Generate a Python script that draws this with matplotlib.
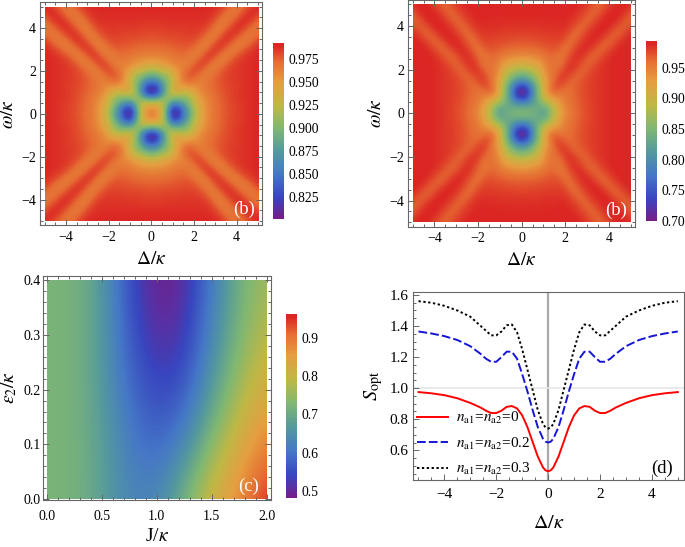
import numpy as np
import matplotlib as mpl
mpl.use('Agg')
import matplotlib.pyplot as plt
from matplotlib.colors import LinearSegmentedColormap
from matplotlib.patches import Rectangle
from matplotlib.ticker import MultipleLocator

plt.rcParams['font.family'] = ['Liberation Serif', 'DejaVu Serif']
plt.rcParams['mathtext.fontset'] = 'stix'

# panels (a) and (b): quadrant delta >= 0, omega >= 0, step .25, rows are omega
a_vals = [
    [.965, .958, .925, .865, .806, .815, .855, .885, .915, .940, .955, .963, .970, .974, .978, .981, .984, .986, .988, .989, .990],
    [.958, .950, .925, .875, .825, .830, .860, .890, .920, .940, .955, .964, .970, .975, .979, .982, .984, .986, .988, .989, .990],
    [.925, .925, .925, .895, .865, .870, .885, .905, .930, .945, .957, .965, .971, .975, .979, .982, .984, .986, .988, .989, .990],
    [.865, .875, .895, .915, .910, .905, .905, .915, .930, .952, .960, .967, .972, .976, .980, .983, .985, .987, .988, .989, .990],
    [.806, .825, .865, .910, .930, .935, .930, .935, .945, .958, .964, .969, .974, .977, .980, .983, .985, .987, .988, .989, .990],
    [.815, .830, .870, .905, .935, .950, .950, .955, .955, .962, .967, .971, .975, .978, .981, .983, .985, .987, .988, .989, .990],
    [.855, .860, .885, .905, .930, .950, .965, .970, .967, .963, .966, .972, .976, .979, .982, .984, .985, .987, .988, .989, .990],
    [.885, .890, .905, .915, .935, .955, .970, .978, .975, .968, .964, .968, .974, .979, .982, .984, .986, .987, .988, .989, .990],
    [.915, .920, .930, .930, .945, .955, .967, .975, .981, .977, .968, .964, .970, .976, .981, .984, .986, .987, .988, .989, .990],
    [.940, .940, .945, .952, .958, .962, .963, .968, .977, .983, .978, .968, .964, .969, .977, .982, .985, .987, .988, .989, .990],
    [.955, .955, .957, .960, .964, .967, .966, .964, .968, .978, .985, .979, .969, .964, .969, .977, .983, .986, .988, .989, .990],
    [.963, .964, .965, .967, .969, .971, .972, .968, .964, .968, .979, .986, .980, .970, .965, .968, .976, .982, .986, .988, .990],
    [.970, .970, .971, .972, .974, .975, .976, .974, .970, .964, .969, .980, .987, .981, .972, .966, .966, .974, .981, .986, .989],
    [.974, .975, .975, .976, .977, .978, .979, .979, .976, .969, .964, .970, .981, .987, .982, .973, .967, .966, .971, .980, .986],
    [.978, .979, .979, .980, .980, .981, .982, .982, .981, .977, .969, .965, .972, .982, .988, .983, .974, .968, .967, .971, .979],
    [.981, .982, .982, .983, .983, .983, .984, .984, .984, .982, .977, .968, .966, .973, .983, .988, .984, .975, .969, .967, .971],
    [.984, .984, .984, .985, .985, .985, .985, .986, .986, .985, .983, .976, .966, .967, .974, .984, .989, .985, .976, .970, .968],
    [.986, .986, .986, .987, .987, .987, .987, .987, .987, .987, .986, .982, .974, .966, .968, .975, .985, .989, .985, .977, .971],
    [.988, .988, .988, .988, .988, .988, .988, .988, .988, .988, .988, .986, .981, .971, .967, .969, .976, .985, .989, .986, .978],
    [.989, .989, .989, .989, .989, .989, .989, .989, .989, .989, .989, .988, .986, .980, .971, .967, .970, .977, .986, .990, .986],
    [.990, .990, .990, .990, .990, .990, .990, .990, .990, .990, .990, .990, .989, .986, .979, .971, .968, .971, .978, .986, .990],
]
b_vals = [
    [.850, .850, .845, .835, .820, .850, .890, .920, .940, .953, .963, .970, .975, .979, .982, .985, .987, .989, .990, .991, .992],
    [.835, .835, .835, .835, .835, .860, .895, .925, .945, .955, .964, .970, .975, .979, .982, .985, .987, .989, .990, .991, .992],
    [.780, .790, .820, .840, .870, .890, .915, .935, .950, .958, .965, .971, .976, .980, .983, .985, .987, .989, .990, .991, .992],
    [.720, .745, .800, .855, .895, .925, .940, .945, .953, .960, .966, .972, .977, .980, .983, .985, .987, .989, .990, .991, .992],
    [.700, .730, .795, .855, .905, .950, .965, .960, .958, .962, .967, .973, .977, .980, .983, .985, .987, .989, .990, .991, .992],
    [.735, .760, .810, .860, .910, .945, .972, .972, .965, .962, .967, .973, .977, .980, .983, .985, .987, .989, .990, .991, .992],
    [.800, .810, .840, .875, .915, .945, .965, .980, .975, .964, .965, .971, .977, .980, .983, .985, .987, .989, .990, .991, .992],
    [.840, .850, .865, .890, .925, .950, .960, .975, .982, .974, .965, .966, .974, .979, .983, .985, .987, .989, .990, .991, .992],
    [.875, .880, .890, .905, .935, .952, .958, .965, .980, .984, .975, .965, .968, .976, .982, .985, .987, .989, .990, .991, .992],
    [.905, .910, .915, .925, .940, .955, .958, .958, .973, .984, .982, .972, .965, .970, .978, .984, .987, .989, .990, .991, .992],
    [.930, .930, .935, .940, .950, .960, .958, .955, .965, .980, .986, .980, .968, .964, .971, .980, .986, .989, .990, .991, .992],
    [.950, .950, .952, .955, .960, .965, .965, .960, .960, .973, .984, .987, .978, .968, .965, .972, .981, .987, .990, .991, .992],
    [.962, .962, .963, .965, .968, .970, .972, .967, .958, .965, .978, .986, .988, .979, .968, .964, .973, .982, .988, .990, .992],
    [.970, .970, .971, .972, .974, .975, .976, .975, .966, .960, .970, .982, .988, .988, .979, .968, .965, .974, .983, .988, .991],
    [.975, .976, .976, .977, .978, .979, .980, .980, .975, .962, .963, .975, .984, .989, .989, .980, .970, .965, .974, .983, .989],
    [.980, .980, .981, .981, .982, .983, .983, .983, .981, .972, .962, .966, .978, .986, .989, .989, .980, .969, .966, .975, .984],
    [.984, .984, .984, .984, .985, .985, .985, .986, .985, .980, .971, .963, .969, .980, .987, .990, .989, .980, .970, .966, .975],
    [.986, .986, .986, .986, .987, .987, .987, .988, .987, .984, .979, .970, .963, .971, .981, .988, .990, .989, .980, .969, .967],
    [.988, .988, .988, .988, .988, .988, .989, .989, .989, .987, .983, .977, .968, .964, .973, .983, .989, .990, .988, .978, .968],
    [.989, .989, .989, .989, .989, .989, .990, .990, .990, .989, .987, .982, .975, .966, .966, .975, .985, .989, .990, .987, .976],
    [.990, .990, .990, .990, .990, .990, .990, .990, .990, .990, .989, .986, .981, .973, .964, .968, .977, .986, .990, .991, .985],
]

# panel (c), J step .25, epsilon step .1
c_vals = [
    [.72, .72, .68, .630, .63, .72, .82, .880, .96],
    [.72, .72, .68, .615, .58, .63, .74, .825, .89],
    [.72, .72, .67, .590, .54, .56, .67, .765, .83],
    [.72, .72, .67, .565, .505, .52, .63, .725, .79],
    [.72, .72, .67, .550, .485, .50, .61, .710, .76],
]

# panel (d), curves are symmetric in delta
d_delta = [0, .1, .2, .4, .6, .8, 1, 1.2, 1.4, 1.6, 1.8, 2, 2.2, 2.4, 2.6, 2.8, 3, 3.5, 4, 4.5, 5]
d_red = [.465, .471, .49, .56, .655, .75, .825, .87, .885, .88, .855, .84, .84, .855, .875, .89, .905, .935, .955, .967, .975]
d_blue = [.65, .656, .675, .75, .86, .98, 1.09, 1.19, 1.235, 1.235, 1.2, 1.17, 1.17, 1.19, 1.22, 1.245, 1.27, 1.31, 1.335, 1.352, 1.365]
d_black = [.74, .747, .77, .86, .99, 1.12, 1.25, 1.36, 1.41, 1.405, 1.365, 1.34, 1.34, 1.37, 1.40, 1.43, 1.46, 1.50, 1.53, 1.55, 1.56]
d_labels = [r'$n_{\rm a1}$=$n_{\rm a2}$=0', r'$n_{\rm a1}$=$n_{\rm a2}$=0.2', r'$n_{\rm a1}$=$n_{\rm a2}$=0.3']

cmap_colors = [(0, (.47, .11, .53)), (.125, (.22, .27, .75)), (.255, (.27, .47, .78)),
               (.385, (.33, .60, .62)), (.516, (.50, .72, .45)), (.646, (.75, .72, .27)),
               (.776, (.90, .62, .25)), (.895, (.90, .42, .20)), (.985, (.86, .15, .14)), (1, (.86, .15, .14))]
rainbow = LinearSegmentedColormap.from_list('rainbow_m', cmap_colors)

W, H = 685, 547
GRAY = '#666666'


def px_axes(x0, y0, x1, y1):
    return fig.add_axes([x0 / W, 1 - y1 / H, (x1 - x0) / W, (y1 - y0) / H])


def mirror(vals):
    z = np.array(vals, float)
    z = np.hstack([z[:, :0:-1], z])
    return np.vstack([z[:0:-1], z])


def frame(ax, size):
    for s in ax.spines.values():
        s.set_color(GRAY)
        s.set_linewidth(.8)
    ax.tick_params(which='both', direction='in', top=True, right=True, color=GRAY,
                   labelsize=size, width=.7)
    ax.tick_params(which='major', length=4)
    ax.tick_params(which='minor', length=2)


def colorbar(mesh, x0, y0, x1, y1, ticks, fmt):
    cax = px_axes(x0, y0, x1, y1)
    cb = fig.colorbar(mesh, cax=cax, ticks=ticks, format=fmt)
    cb.outline.set_visible(False)
    cax.tick_params(length=0, labelsize=9.8, pad=3.2)


def heat(box, z, xr, yr, vmin, vmax, lim):
    ax = px_axes(*box)
    dx = (xr[1] - xr[0]) / (z.shape[1] - 1) / 2
    dy = (yr[1] - yr[0]) / (z.shape[0] - 1) / 2
    im = ax.imshow(z, origin='lower', aspect='auto', interpolation='bicubic', cmap=rainbow,
                   vmin=vmin, vmax=vmax, extent=(xr[0] - dx, xr[1] + dx, yr[0] - dy, yr[1] + dy))
    im.set_clip_path(Rectangle((xr[0], yr[0]), xr[1] - xr[0], yr[1] - yr[0], transform=ax.transData))
    ax.set_xlim(*lim[:2])
    ax.set_ylim(*lim[2:])
    return ax, im


def square_panel(ax, label_x):
    frame(ax, 10)
    ax.xaxis.set_major_locator(MultipleLocator(2))
    ax.yaxis.set_major_locator(MultipleLocator(2))
    ax.xaxis.set_minor_locator(MultipleLocator(.5))
    ax.yaxis.set_minor_locator(MultipleLocator(.5))
    ax.tick_params(axis='x', pad=4)
    ax.tick_params(axis='y', pad=3)
    ax.set_xlabel(r'$\Delta/\kappa$', fontsize=14, labelpad=5)
    ax.set_ylabel(r'$\omega/\kappa$', fontsize=14, labelpad=3)
    ax.text(label_x, -4.46, '(b)', color='white', fontsize=13.5, ha='center', va='center')


fig = plt.figure(figsize=(W / 100, H / 100), dpi=100)

# (a)
ax, m = heat((40.3, 2.3, 262.3, 225.3), mirror(a_vals), (-5, 5), (-5, 5), .801, .993, (-5.2, 5.2, -5.2, 5.2))
square_panel(ax, 4.34)
colorbar(m, 273, 42.7, 284, 219.3, [.825, .85, .875, .9, .925, .95, .975], '%.3f')

# (b)
ax, m = heat((408.3, 0, 635, 226.7), mirror(b_vals), (-5, 5), (-5, 5), .70, .9935, (-5.2, 5.2, -5.2, 5.2))
square_panel(ax, 4.35)
colorbar(m, 645.7, 41, 656.7, 221, [.7, .75, .8, .85, .9, .95], '%.2f')

# (c)
ax, m = heat((43, 275.7, 270.7, 500), np.array(c_vals), (0, 2), (0, .4), .481, .962, (-.035, 2.035, -.0015, .408))
frame(ax, 10)
ax.set_xticks([0, .5, 1, 1.5, 2])
ax.set_yticks([0, .1, .2, .3, .4])
ax.xaxis.set_minor_locator(MultipleLocator(.1))
ax.yaxis.set_minor_locator(MultipleLocator(.02))
ax.set_xticklabels(['0.0', '0.5', '1.0', '1.5', '2.0'])
ax.set_yticklabels(['0.0', '0.1', '0.2', '0.3', '0.4'])
ax.tick_params(axis='x', pad=7)
ax.tick_params(axis='y', pad=1.5)
ax.set_xlabel(r'J/$\kappa$', fontsize=14, labelpad=4)
ax.set_ylabel(r'$\varepsilon_2/\kappa$', fontsize=14, labelpad=3)
ax.text(1.83, .024, '(c)', color='white', fontsize=13.5, ha='center', va='center')
colorbar(m, 286, 314, 296.7, 498.3, [.5, .6, .7, .8, .9], '%.1f')

# (d)
ax = px_axes(413.3, 291.7, 684.3, 480)
dd = np.array(d_delta)
full_x = np.r_[-dd[:0:-1], dd]
styles = [('red', '-', 1.4, d_red), ('#1515d8', (0, (4.5, 1.6)), 1.4, d_blue), ('black', (0, (1.2, 1.3)), 1.4, d_black)]
for (col, ls, lw, vals), lab in zip(styles, d_labels):
    v = np.array(vals)
    ax.plot(full_x, np.r_[v[:0:-1], v], color=col, ls=ls, lw=lw, label=lab, zorder=3)
ax.axvline(0, color='#aaaaaa', lw=1.6, zorder=1)
ax.axhline(1, color='#e6e6e6', lw=1.2, zorder=1)
ax.set_xlim(-5.2, 5.25)
ax.set_ylim(.409, 1.621)
frame(ax, 11)
ax.tick_params(top=False, right=False)
ax.tick_params(which='minor', top=False, right=False)
ax.tick_params(axis='x', pad=6)
ax.xaxis.set_major_locator(MultipleLocator(2))
ax.xaxis.set_minor_locator(MultipleLocator(.5))
ax.set_yticks([.6, .8, 1, 1.2, 1.4, 1.6])
ax.yaxis.set_minor_locator(MultipleLocator(.05))
ax.set_yticklabels(['0.6', '0.8', '1.0', '1.2', '1.4', '1.6'])
ax.set_xlabel(r'$\Delta/\kappa$', fontsize=14.5, labelpad=9)
ax.set_ylabel(r'$S_{\rm opt}$', fontsize=14.5, labelpad=3)
ax.legend(loc='lower left', bbox_to_anchor=(0, -.005), frameon=False, fontsize=11,
          handlelength=2.0, handletextpad=.55, labelspacing=.62, borderaxespad=0, borderpad=0.25)
ax.text(4.4, .485, '(d)', color='black', fontsize=13.5, ha='center', va='center')

fig.savefig('out.png', dpi=100)
